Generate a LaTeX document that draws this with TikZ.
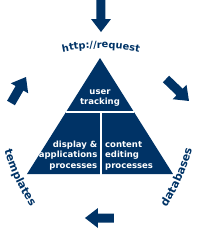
\documentclass[tikz,border=0pt]{standalone}
\usepackage{fontspec}
\setmainfont{DejaVu Sans}
\usetikzlibrary{decorations.text, calc}
\definecolor{navy}{RGB}{0,51,102}
\tikzset{
  boxtext/.style={font=\bfseries\fontsize{8.5}{10.5}\selectfont, text=white, inner sep=0pt},
  divider/.style={draw=white, line width=1.4pt}
}

\begin{document}
\begin{tikzpicture}[x=1pt,y=1pt]
\useasboundingbox (0,0) rectangle (200,231);

% ── Pyramid ───────────────────────────────────────────────────────────────────
\coordinate (apex)  at (100,173);
\coordinate (baseL) at (27,57);
\coordinate (baseR) at (173,57);
\fill[navy] (apex) -- (baseL) -- (baseR) -- cycle;
\coordinate (cutL) at ($(apex)!0.4655!(baseL)$);
\coordinate (cutR) at ($(apex)!0.4655!(baseR)$);
\draw[divider] (cutL) -- (cutR);
\draw[divider] (101,119) -- (101,56);

\node[boxtext, align=center] (usertrack) at (100,133) {user\\tracking};
\node[boxtext, align=right, anchor=east] (displayproc) at (97.5,75.5)
     {display \&\\applications\\processes};
\node[boxtext, align=left, anchor=west] (contentproc) at (105,75.5)
     {content\\editing\\processes};

% ── Cycle arrows (tail x / tail y / angle / length) ──────────────────────────
\foreach \tx/\ty/\ang/\len in {101/231/-90/32, 166/152/-43.7/31.8,
                               114/13/180/29, 11/128/60/30}
{
  \begin{scope}[shift={(\tx,\ty)}, rotate=\ang]
    \fill[navy] (0,-4.5) -- (\len-13,-4.5) -- (\len-13,-10) -- (\len,0)
                -- (\len-13,10) -- (\len-13,4.5) -- (0,4.5) -- cycle;
  \end{scope}
}

% ── Curved labels ─────────────────────────────────────────────────────────────
\path[decorate, decoration={text along path, text align=center, text color=navy,
      text={|\bfseries\fontsize{9.8}{12}\selectfont|http://request}}]
     (101,3) ++(105:180) arc[start angle=105, end angle=75, radius=180];
\path[decorate, decoration={text along path, text align=center, text color=navy,
      text={|\bfseries\fontsize{11}{13}\selectfont|templates}}]
     (196.6,135.9) ++(192:200) arc[start angle=192, end angle=218, radius=200];
\path[decorate, decoration={text along path, text align=center, text color=navy,
      text={|\bfseries\fontsize{11}{13}\selectfont|databases}}]
     (-1.2,133.1) ++(-37:200) arc[start angle=-37, end angle=-11, radius=200];

\end{tikzpicture}
\end{document}
